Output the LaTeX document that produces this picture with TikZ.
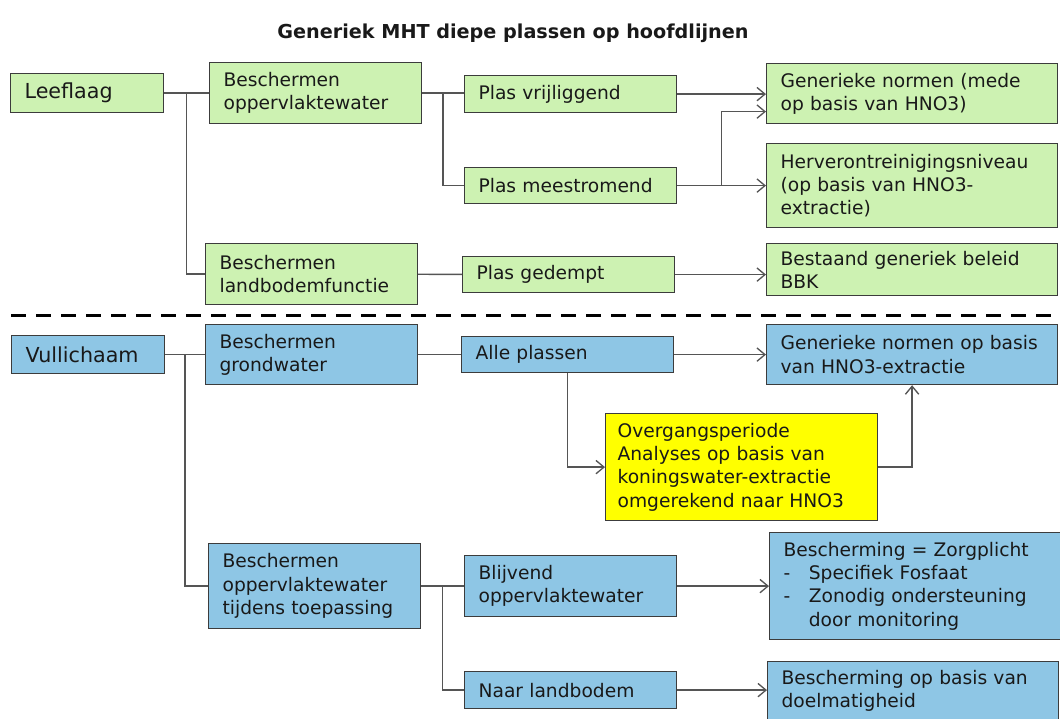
\documentclass[tikz,border=0pt]{standalone}
\usepackage{fontspec}
\setmainfont{DejaVu Sans}
\usepackage{tikz}
\usetikzlibrary{arrows.meta,calc,positioning}
\definecolor{leefgreen}{RGB}{205,242,178}
\definecolor{vulblue}{RGB}{142,198,229}
\definecolor{overyellow}{RGB}{255,255,0}
\definecolor{boxline}{RGB}{60,60,60}
\definecolor{linkgray}{RGB}{85,85,85}

\begin{document}
\begin{tikzpicture}[
  x=0.75pt, y=-0.75pt,
  every node/.style={font=\fontsize{14}{17.5}\selectfont, text=black!90},
  box/.style={rectangle, draw=boxline, line width=0.9pt, anchor=north west, align=left, inner xsep=10.5pt, inner ysep=1pt},
  leefbox/.style={box, fill=leefgreen},
  vulbox/.style={box, fill=vulblue},
  overbox/.style={box, fill=overyellow, inner xsep=9pt, text width=186pt},
  rootbox/.style={font=\fontsize{15.5}{18}\selectfont, text width=93.75pt},
  midbox/.style={text width=138pt},
  widebox/.style={text width=197.25pt},
  link/.style={draw=linkgray, line width=1pt},
  arrow/.style={link, -{Straight Barb[length=6pt,width=10pt]}},
  sepline/.style={line width=2.25pt, dash pattern=on 11.25pt off 7.5pt}
]
\useasboundingbox (0,0) rectangle (1060,718);

% Title
\node[font=\bfseries\fontsize{14.4}{17}\selectfont] (title) at (513,33) {Generiek MHT diepe plassen op hoofdlijnen};

% Leeflaag (upper half)
\node[leefbox, rootbox, minimum height=29.25pt] (leef) at (10,73) {Leeflaag};
\node[leefbox, midbox, minimum height=45.75pt] (bow) at (209,62) {Beschermen\\oppervlaktewater};
\node[leefbox, midbox, minimum height=45.75pt] (blf) at (205,243) {Beschermen\\landbodemfunctie};
\node[leefbox, midbox, minimum height=27.75pt] (vrij) at (464,75) {Plas vrijliggend};
\node[leefbox, midbox, minimum height=27pt] (mee) at (464,167) {Plas meestromend};
\node[leefbox, midbox, minimum height=27pt] (ged) at (462,256) {Plas gedempt};
\node[leefbox, widebox, minimum height=45pt] (gen1) at (766,63) {Generieke normen (mede\\op basis van HNO3)};
\node[leefbox, widebox, minimum height=63pt] (herv) at (766,143) {Herverontreinigingsniveau\\(op basis van HNO3-\\extractie)};
\node[leefbox, widebox, minimum height=39pt] (best) at (766,243) {Bestaand generiek beleid\\BBK};

% Separator
\draw[sepline] (11,315) -- (1060,315);

% Vullichaam (lower half)
\node[vulbox, rootbox, minimum height=28.5pt] (vul) at (11,335) {Vullichaam};
\node[vulbox, midbox, minimum height=45pt] (bgw) at (205,324) {Beschermen\\grondwater};
\node[vulbox, midbox, minimum height=63.75pt] (bot) at (208,543) {Beschermen\\oppervlaktewater\\tijdens toepassing};
\node[vulbox, midbox, minimum height=27pt] (alle) at (461,336) {Alle plassen};
\node[vulbox, widebox, minimum height=45pt] (gen2) at (766,324) {Generieke normen op basis\\van HNO3-extractie};
\node[overbox, minimum height=80.25pt] (over) at (605,413) {Overgangsperiode\\Analyses op basis van\\koningswater-extractie\\omgerekend naar HNO3};
\node[vulbox, midbox, minimum height=45.75pt] (blij) at (464,555) {Blijvend\\oppervlaktewater};
\node[vulbox, midbox, minimum height=27.75pt] (naar) at (464,671) {Naar landbodem};
\node[vulbox, widebox, minimum height=80.25pt] (zorg) at (769,532) {Bescherming = Zorgplicht\\\makebox[1.35em][l]{-}Specifiek Fosfaat\\\makebox[1.35em][l]{-}Zonodig ondersteuning\\\hspace*{1.35em}door monitoring};
\node[vulbox, widebox, minimum height=43.5pt] (doel) at (767,661) {Bescherming op basis van\\doelmatigheid};

% Links - Leeflaag
\coordinate (j1) at ($(leef.east)!0.5!(bow.west)$);
\draw[link] (leef) -- (bow);
\draw[link] (j1) |- (blf.west);
\coordinate (j2) at ($(bow.east)!0.5!(bow.east -| vrij.west)$);
\draw[link] (bow.east) -- (bow.east -| vrij.west);
\draw[link] (j2) |- (mee.west);
\draw[link] (blf) -- (ged);

% Arrows - to upper results
\draw[arrow] (vrij.east) -- (vrij.east -| gen1.west);
\draw[arrow] (mee) -- (herv);
\coordinate (j3) at ($(mee.east)!0.5!(herv.west)$);
\draw[arrow] (j3) |- ([yshift=-13.5pt]gen1.west);
\draw[arrow] (ged.east) -- (ged.east -| best.west);

% Links - Vullichaam
\coordinate (j4) at ($(vul.east)!0.5!(bgw.west)$);
\draw[link] (vul) -- (bgw);
\draw[link] (j4) |- (bot.west);
\draw[link] (bgw) -- (alle);
\coordinate (j5) at ($(bot.east)!0.5!(blij.west)$);
\draw[link] (bot) -- (blij);
\draw[link] (j5) |- (naar.west);

% Arrows - to lower results
\draw[arrow] (alle) -- (gen2);
\draw[arrow] (alle.south) |- (over.west);
\draw[arrow] (over.east) -| (gen2.south);
\draw[arrow] (blij) -- (zorg);
\draw[arrow] (naar.east) -- (naar.east -| doel.west);

\end{tikzpicture}
\end{document}
